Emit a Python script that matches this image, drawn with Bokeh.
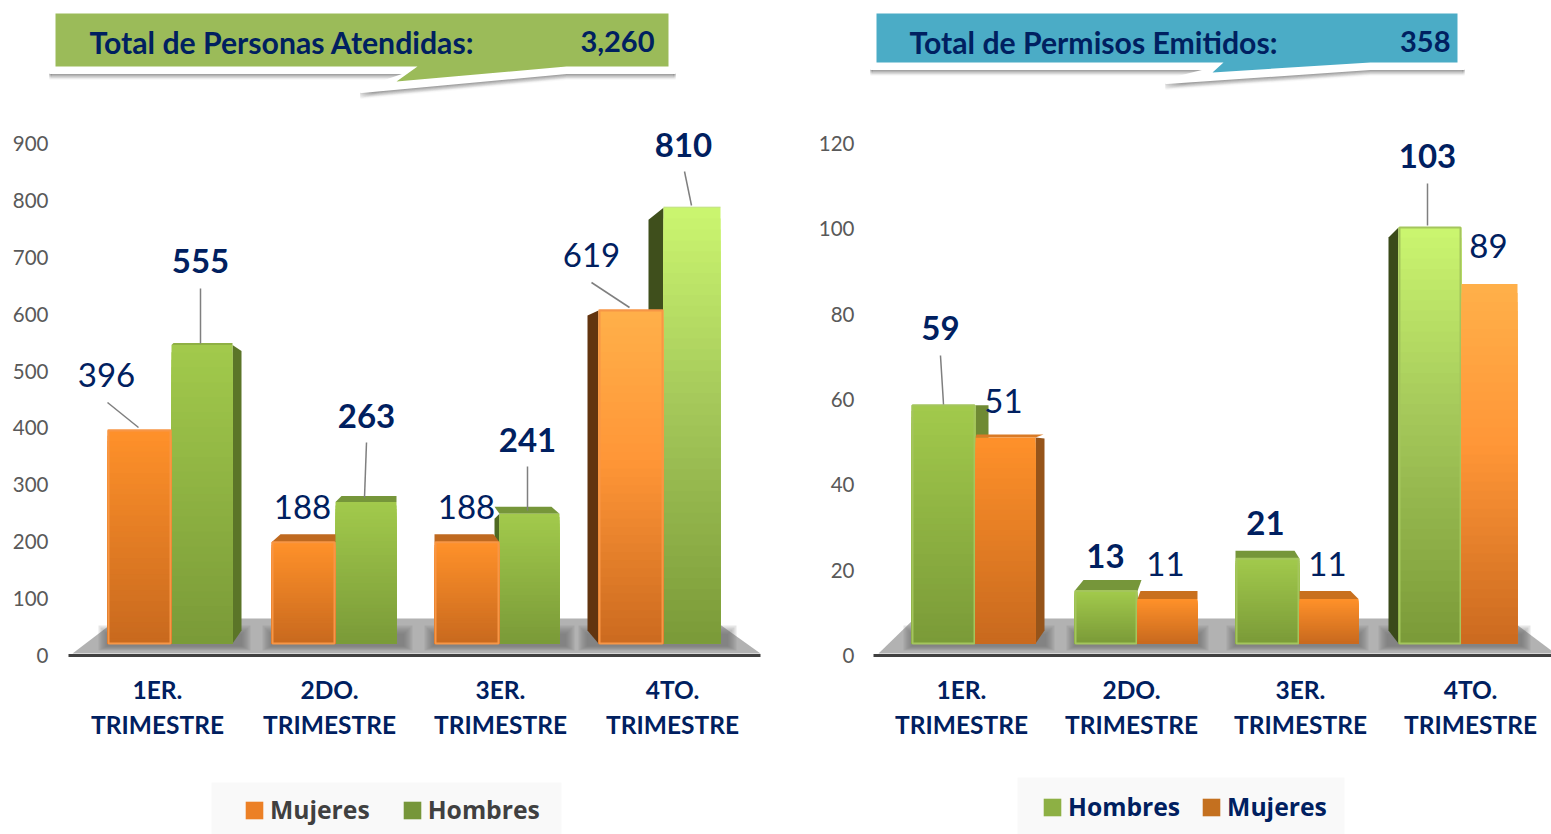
from bokeh.plotting import figure
from bokeh.layouts import row
from bokeh.models import Range1d, FixedTicker, Legend, LegendItem
from bokeh.core.properties import value
from bokeh.embed import file_html
from bokeh.resources import INLINE

# ---- data ----
categories = ["1ER.\nTRIMESTRE", "2DO.\nTRIMESTRE", "3ER.\nTRIMESTRE", "4TO.\nTRIMESTRE"]
atendidas_mujeres = [396, 188, 188, 619]
atendidas_hombres = [555, 263, 241, 810]
permisos_hombres = [59, 13, 21, 103]
permisos_mujeres = [51, 11, 11, 89]
atendidas_ticks = [0, 100, 200, 300, 400, 500, 600, 700, 800, 900]
permisos_ticks = [0, 20, 40, 60, 80, 100, 120]
atendidas_total = 3260
permisos_total = 358

NAVY = "#002060"
TOP_PX, BOT_PX = 0, 834
Y0_PX, YMAX_PX, BASE_PX = 655, 143, 643
N = 40
NAN = float("nan")


def mix(stops, t):
    for (a, ca), (b, cb) in zip(stops, stops[1:]):
        if t <= b:
            f = (t - a) / (b - a)
            c = [round(ca[i] + (cb[i] - ca[i]) * f) for i in range(3)]
            return "#%02x%02x%02x" % tuple(c)
    return "#%02x%02x%02x" % tuple(stops[-1][1])


OR_N = [(0, (200, 105, 30)), (1, (255, 145, 42))]
OR_T = [(0, (203, 106, 31)), (0.55, (255, 150, 55)), (1, (255, 176, 74))]
GR_N = [(0, (122, 154, 56)), (1, (162, 202, 76))]
GR_T = [(0, (122, 154, 56)), (0.55, (165, 200, 90)), (1, (203, 246, 112))]


def chart(width, xlo, ymax, ticks, kbar, series, ax_x, ax_bounds, tick_x, floor, callout, title, total, labels, legend_cfg):
    s = (Y0_PX - YMAX_PX) / ymax
    p = figure(width=width, height=BOT_PX - TOP_PX, x_range=Range1d(xlo, xlo + width),
               y_range=Range1d((Y0_PX - BOT_PX) / s, (Y0_PX - TOP_PX) / s),
               output_backend="svg", toolbar_location=None, min_border=0,
               outline_line_color=None, x_axis_location="below", y_axis_location="left")
    p.extra_y_ranges = {"page": Range1d(BOT_PX, TOP_PX),
                        "bars": Range1d((BASE_PX - BOT_PX) / kbar, (BASE_PX - TOP_PX) / kbar)}
    p.grid.visible = False

    xa = p.xaxis[0]
    xa.fixed_location = 0
    xa.bounds = ax_bounds
    xa.ticker = FixedTicker(ticks=tick_x)
    xa.major_label_overrides = {float(x): c for x, c in zip(tick_x, categories)}
    xa.major_tick_line_color = None
    xa.minor_tick_line_color = None
    xa.axis_line_color = "#404040"
    xa.axis_line_width = 3
    xa.major_label_text_font = "Lato"
    xa.major_label_text_font_style = "bold"
    xa.major_label_text_font_size = "24.5px"
    xa.major_label_text_color = NAVY
    xa.major_label_text_line_height = 1.22
    xa.major_label_standoff = 13

    ya = p.yaxis[0]
    ya.fixed_location = ax_x
    ya.ticker = FixedTicker(ticks=ticks)
    ya.major_tick_line_color = None
    ya.minor_tick_line_color = None
    ya.axis_line_color = None
    ya.major_label_text_font = "Lato"
    ya.major_label_text_font_size = "20.5px"
    ya.major_label_text_color = "#595959"
    ya.major_label_standoff = 5

    # floor
    fx = floor["x"]
    p.patch(x=fx, y=[653, 618, 618, 653], y_range_name="page", fill_color="#b2b2b2", line_color=None)
    for l, r in floor["shadow"]:
        for g in (0, 2, 4, 6, 8):
            p.quad(left=[l + g], right=[r - g], top=[625 + g], bottom=[650 - g // 2], y_range_name="page",
                   fill_color="#666666", fill_alpha=.16, line_color=None)

    # bars: back series first
    for ser in series:
        vals = ser["values"]
        lefts = [ser["edge"][i] if ser["after"] else ser["edge"][i] - ser["w"][i] for i in range(4)]
        for i, v in enumerate(vals):
            f = ser["faces"][i]
            l = lefts[i]
            r = l + ser["w"][i]
            if "side" in f:
                dx, drop, col = f["side"]
                e = r if dx > 0 else l
                p.patch(x=[e, e + dx, e + dx, e],
                        y=[v, v - drop / kbar, 13 / kbar, 0],
                        y_range_name="bars", fill_color=col, line_color=None)
            if "top" in f:
                tl, tr, dy, col = f["top"]
                p.patch(x=[l, r, r + tr, l + tl],
                        y=[v, v, v + dy / kbar, v + dy / kbar],
                        y_range_name="bars", fill_color=col, line_color=None)
        # fronts: nested strips, tallest first, so no seams show
        L, R, T, B, C = [], [], [], [], []
        for i, v in enumerate(vals):
            stops = ser["tall"] if i == 3 else ser["normal"]
            for j in range(N - 1, -1, -1):
                L.append(lefts[i]); R.append(lefts[i] + ser["w"][i])
                B.append(0); T.append(v * (j + 1) / N)
                C.append(mix(stops, (j + .5) / N))
        p.quad(left=L, right=R, top=T, bottom=B, fill_color=C, line_color=None, y_range_name="bars")
        if ser["outline"]:
            p.quad(left=[a + 1 for a in lefts], right=[a + w - 1 for a, w in zip(lefts, ser["w"])],
                   top=vals, bottom=[0] * 4, fill_color=None, line_color=ser["outline"], line_width=2,
                   y_range_name="bars")

    # callout
    cx = callout["outer"]
    for off, a in ((7, .05), (6, .07), (5, .09), (4, .11), (3, .13), (2, .15)):
        p.patch(x=cx, y=[y + off for y in callout["outer_y"]], y_range_name="page",
                fill_color="#444444", fill_alpha=a, line_color="#444444", line_alpha=a * .6, line_width=3,
                line_join="round")
    p.patch(x=cx, y=callout["outer_y"], y_range_name="page", fill_color="white", line_color="white",
            line_width=5, line_join="round")
    p.patch(x=callout["inner"], y=callout["inner_y"], y_range_name="page", fill_color=callout["color"], line_color=None)
    p.text(x=[callout["title_x"]], y=[41], text=[title], y_range_name="page", text_font=value("Lato"),
           text_font_style="bold", text_font_size="30.2px", text_color=NAVY, text_align="left", text_baseline="middle")
    p.text(x=[callout["total_x"]], y=[41], text=[f"{total:,}"], y_range_name="page", text_font=value("Lato"),
           text_font_style="bold", text_font_size="29px", text_color=NAVY, text_align="right", text_baseline="middle")

    # leaders and data labels
    lead = [b for b in labels if b["lead"]]
    p.segment(x0=[b["lead"][0] for b in lead], y0=[b["lead"][1] for b in lead],
              x1=[b["lead"][2] for b in lead], y1=[b["lead"][3] for b in lead],
              y_range_name="page", line_color="#7f7f7f", line_width=1.5)
    for style in ("normal", "bold"):
        sel = [b for b in labels if b["style"] == style]
        p.text(x=[b["x"] for b in sel], y=[b["y"] - 1 for b in sel], text=[str(b["v"]) for b in sel],
               y_range_name="page", text_font=value("Lato"), text_font_style=style, text_font_size="33px",
               text_color=NAVY, text_align="center", text_baseline="middle")

    # legend
    bl, br, bt = legend_cfg["box"]
    p.quad(left=[bl], right=[br], top=[bt], bottom=[BOT_PX], y_range_name="page", fill_color="#f9f9f9", line_color=None)
    items = []
    for name, col in legend_cfg["items"]:
        r = p.quad(left=[NAN], right=[NAN], top=[NAN], bottom=[NAN], fill_color=col, line_color=None)
        items.append(LegendItem(label=name, renderers=[r]))
    lg = Legend(items=items, orientation="horizontal", location=legend_cfg["loc"], margin=0,
                padding=0, spacing=legend_cfg["spacing"], glyph_width=22, glyph_height=22,
                label_standoff=5, background_fill_alpha=0, border_line_color=None,
                label_text_font="Open Sans", label_text_font_style="bold", label_text_font_size="24.7px",
                label_text_color=legend_cfg["color"], label_height=30)
    p.add_layout(lg, "center")
    return p


orange_side_t = "#62340f"
left = chart(
    788, 0, 900, atendidas_ticks, 0.538,
    [
        dict(values=atendidas_hombres, edge=[171, 335, 499, 663], w=[61, 61, 60, 57], after=True,
             normal=GR_N, tall=GR_T, outline=None,
             faces=[dict(side=(9, 6, "#5b7528"), top=(2, 0, 2, "#8fb044")),
                    dict(top=(6, 0, 6, "#76963a")),
                    dict(side=(-5, 5, "#4f6a22"), top=(-5, -8, 7, "#76963a")),
                    dict(side=(-15, 12, "#3f4f1c"), top=(0, 0, 1, "#b0d860"))]),
        dict(values=atendidas_mujeres, edge=[171, 335, 499, 663], w=[64, 64, 65, 65], after=False,
             normal=OR_N, tall=OR_T, outline="#f79646",
             faces=[dict(top=(0, 0, 1, "#f79646")),
                    dict(top=(9, 0, 8, "#bf691f")),
                    dict(top=(0, -6, 8, "#bf691f")),
                    dict(side=(-11, 5, orange_side_t), top=(0, 0, 1, "#f79646"))]),
    ],
    59, (68, 760), [157, 329, 500, 672],
    dict(x=[72, 118, 711, 760], shadow=[(98, 250), (262, 412), (424, 574), (578, 736)]),
    dict(outer=[50, 674, 674, 566, 361, 416, 50], outer_y=[10, 10, 71, 71, 90, 71, 71],
         inner=[55, 668, 668, 566, 396, 417, 55], inner_y=[13, 13, 66, 66, 81, 66, 66],
         color="#9bbb59", title_x=89, total_x=654),
    "Total de Personas Atendidas:", atendidas_total,
    [
        dict(v=atendidas_mujeres[0], x=106, y=375, style="normal", lead=(107, 402, 138, 427)),
        dict(v=atendidas_hombres[0], x=200, y=261, style="bold", lead=(200, 288, 200, 343)),
        dict(v=atendidas_mujeres[1], x=302, y=507, style="normal", lead=None),
        dict(v=atendidas_hombres[1], x=366, y=416, style="bold", lead=(366, 442, 364, 497)),
        dict(v=atendidas_mujeres[2], x=466, y=507, style="normal", lead=None),
        dict(v=atendidas_hombres[2], x=527, y=440, style="bold", lead=(527, 466, 527, 510)),
        dict(v=atendidas_mujeres[3], x=591, y=255, style="normal", lead=(591, 282, 629, 307)),
        dict(v=atendidas_hombres[3], x=683, y=145, style="bold", lead=(684, 171, 691, 205)),
    ],
    dict(items=[("Mujeres", "#ec8026"), ("Hombres", "#76963a")], box=(211, 561, 782), loc=(243, 8), spacing=31, color="#404040"),
)

right = chart(
    763, 788, 120, permisos_ticks, 4.04,
    [
        dict(values=permisos_hombres, edge=[975, 1137, 1299, 1461], w=[64, 63, 64, 63], after=False,
             normal=GR_N, tall=GR_T, outline="#a4c55d",
             faces=[dict(side=(13, 0, "#6f8a33")),
                    dict(top=(9, 4, 11, "#76963a")),
                    dict(top=(0, -5, 8, "#76963a")),
                    dict(side=(-10, 10, "#3a4a1a"))]),
        dict(values=permisos_mujeres, edge=[975, 1137, 1299, 1461], w=[60, 60, 59, 56], after=True,
             normal=OR_N, tall=OR_T, outline=None,
             faces=[dict(side=(9, 1, "#96541a"), top=(1, 8, 3, "#d97a25")),
                    dict(top=(3, 0, 8, "#c9701e")),
                    dict(top=(0, -8, 8, "#c9701e")),
                    dict()]),
    ],
    865, (873, 1551), [961, 1131, 1300, 1470],
    dict(x=[878, 914, 1508, 1555], shadow=[(903, 1054), (1066, 1208), (1226, 1368), (1378, 1530)]),
    dict(outer=[871, 1463, 1463, 1370, 1166, 1222, 871], outer_y=[9, 9, 67, 67, 81, 67, 67],
         inner=[876, 1457, 1457, 1370, 1212, 1223, 876], inner_y=[13, 13, 62, 62, 72, 62, 62],
         color="#4bacc6", title_x=909, total_x=1450),
    "Total de Permisos Emitidos:", permisos_total,
    [
        dict(v=permisos_hombres[0], x=940, y=328, style="bold", lead=(940, 355, 943, 404)),
        dict(v=permisos_mujeres[0], x=1003, y=401, style="normal", lead=None),
        dict(v=permisos_hombres[1], x=1105, y=556, style="bold", lead=None),
        dict(v=permisos_mujeres[1], x=1165, y=564, style="normal", lead=None),
        dict(v=permisos_hombres[2], x=1265, y=523, style="bold", lead=None),
        dict(v=permisos_mujeres[2], x=1327, y=564, style="normal", lead=None),
        dict(v=permisos_hombres[3], x=1427, y=156, style="bold", lead=(1427, 183, 1427, 225)),
        dict(v=permisos_mujeres[3], x=1488, y=246, style="normal", lead=None),
    ],
    dict(items=[("Hombres", "#8db044"), ("Mujeres", "#c4701f")], box=(1017, 1344, 777), loc=(253, 11), spacing=20, color=NAVY),
)

page = row(left, right, spacing=0)
open("out.html", "w").write(file_html(page, INLINE))
